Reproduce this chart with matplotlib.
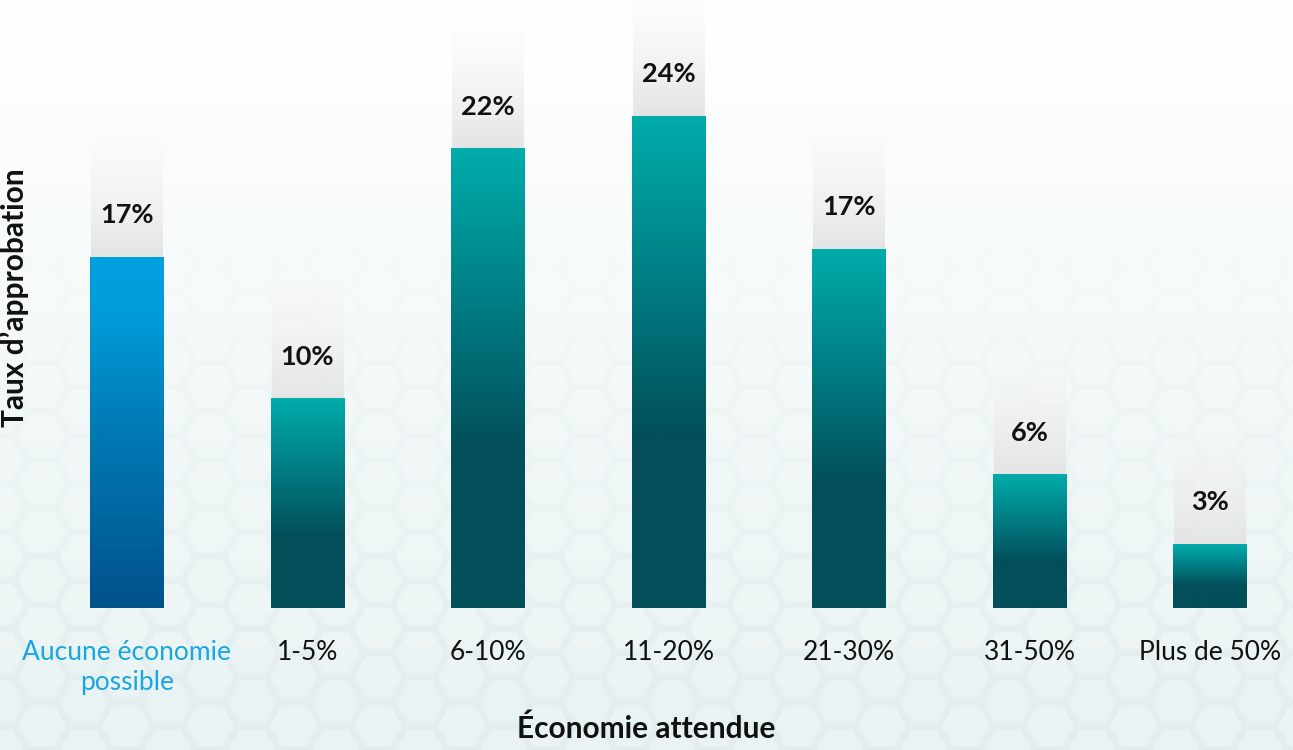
import numpy as np
import matplotlib
matplotlib.use("Agg")
import matplotlib.pyplot as plt
from matplotlib.colors import LinearSegmentedColormap, to_rgb
from matplotlib.patches import RegularPolygon

plt.rcParams['font.family'] = ['Lato', 'DejaVu Sans']

categories = ['Aucune économie\npossible', '1-5%', '6-10%', '11-20%', '21-30%', '31-50%', 'Plus de 50%']
values = [17.1, 10.2, 22.4, 24.0, 17.5, 6.5, 3.1]
labels = ['17%', '10%', '22%', '24%', '17%', '6%', '3%']

W, H = 1293, 750
fig = plt.figure(figsize=(W / 100, H / 100), dpi=100)

# background: white fading to pale teal, faint honeycomb
bg = fig.add_axes([0, 0, 1, 1], zorder=0)
bg.set_xlim(0, W)
bg.set_ylim(0, H)
bg.axis('off')
top = np.array(to_rgb('#ffffff'))
bottom = np.array(to_rgb('#e9f3f3'))
t = np.linspace(0, 1, 256)[:, None, None]
grad = bottom * (1 - t) + top * t
grad = np.repeat(grad, 2, axis=1)
bg.imshow(grad, extent=[0, W, 0, H], origin='lower', aspect='auto', zorder=0)
R = 28
dx, dy = 1.5 * R, np.sqrt(3) * R
for c in range(int(W / dx) + 2):
    for r in range(int(H / dy) + 2):
        cx = c * dx
        cy = r * dy + (dy / 2 if c % 2 else 0)
        a = max(0.0, 1 - cy / 520) * 0.45
        if a <= 0:
            continue
        bg.add_patch(RegularPolygon((cx, cy), 6, radius=R - 2, orientation=np.pi / 6,
                                    facecolor='none', edgecolor='#dce7e8', lw=2.5, alpha=a, zorder=1))

ax = fig.add_axes([0, 142 / H, 1, 608 / H], zorder=1)
ax.set_facecolor('none')

teal = LinearSegmentedColormap.from_list('teal', [(0, '#034f5a'), (0.35, '#034f5a'),
                                                  (0.7, '#008288'), (1, '#00acab')])
blue = LinearSegmentedColormap.from_list('blue', [(0, '#00528a'), (0.5, '#0079b3'),
                                                  (0.85, '#009cda'), (1, '#00a0df')])

x = np.arange(len(values))
bars = ax.bar(x, values, width=0.405, color='none', zorder=2)
ramp = np.linspace(0, 1, 256)[:, None]
back_h = 118 / 20.5
for i, b in enumerate(bars):
    x0, w, h = b.get_x(), b.get_width(), b.get_height()
    cmap = blue if i == 0 else teal
    ax.imshow(ramp, cmap=cmap, extent=[x0, x0 + w, 0, h], origin='lower',
              aspect='auto', zorder=2, interpolation='bicubic')
    # grey backdrop above each bar
    g = np.zeros((256, 1, 4))
    s = np.linspace(0, 1, 256)
    g[:, 0, 0] = g[:, 0, 1] = g[:, 0, 2] = (0.895 + 0.08 * s)
    g[:, 0, 3] = 1 - 0.75 * s
    ax.imshow(g, extent=[x0 + 0.005, x0 + w - 0.005, h, h + back_h], origin='lower',
              aspect='auto', zorder=1)
    ax.text(x[i], h + 2.05, labels[i], ha='center', va='center', fontsize=19.5,
            fontweight='bold', color='#111111', zorder=3)

ax.set_xlim(-0.7036, 6.46)
ax.set_ylim(0, 608 / 20.5)
ax.set_xticks(x)
ax.set_xticklabels(categories, fontsize=19, linespacing=1.25)
ax.tick_params(axis='x', length=0, pad=23)
ax.get_xticklabels()[0].set_color('#1aa7e0')
for lab in ax.get_xticklabels()[1:]:
    lab.set_color('#111111')
ax.set_yticks([])
for sp in ax.spines.values():
    sp.set_visible(False)

ax.set_xlabel('Économie attendue', fontsize=21.5, fontweight='bold', color='#111111')
ax.xaxis.set_label_coords(0.5, -(729 - 608) / 608)
ax.xaxis.label.set_va('center')
ax.set_ylabel('Taux d’approbation', fontsize=21.5, fontweight='bold', color='#111111')
ax.yaxis.set_label_coords(15 / W, (608 - 298) / 608)
ax.yaxis.label.set_va('center')

fig.savefig('out.png', dpi=100)
